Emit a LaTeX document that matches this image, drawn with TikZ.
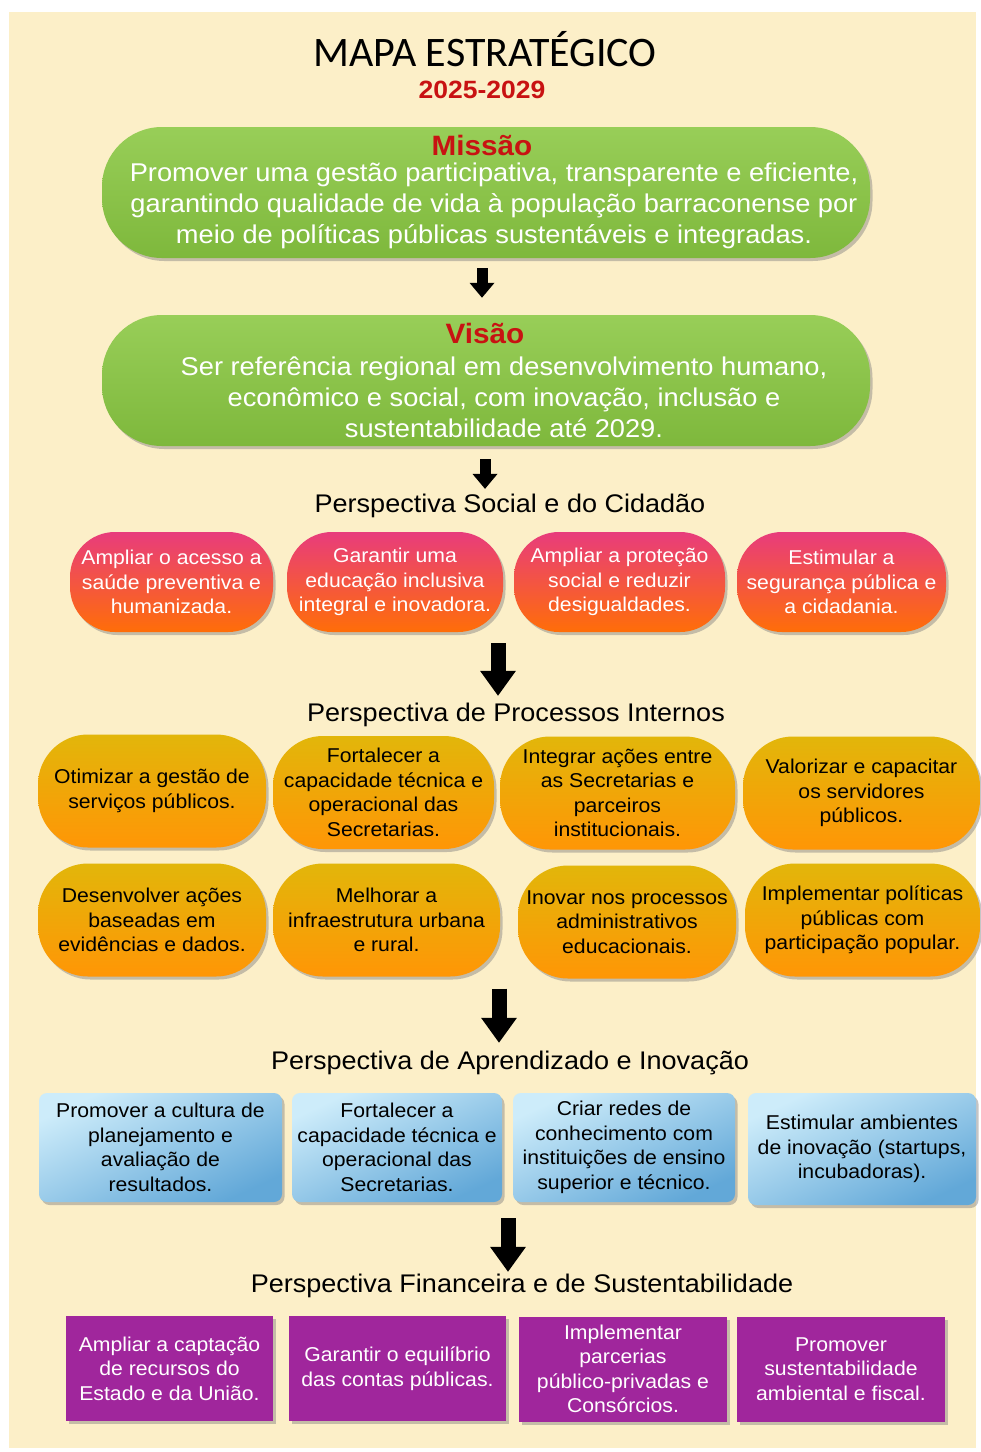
\documentclass[tikz,border=0pt]{standalone}
\usepackage{fontspec}
\setmainfont{Liberation Sans}[FakeStretch=1.06]
\newfontfamily\titlefont{Carlito}
\usetikzlibrary{arrows.meta,shadows}

\definecolor{cream}{RGB}{252,239,200}
\definecolor{darkred}{RGB}{200,18,18}
\definecolor{greenA}{RGB}{152,206,88}
\definecolor{greenB}{RGB}{126,184,60}
\definecolor{pinkA}{RGB}{232,60,124}
\definecolor{orangeA}{RGB}{255,110,8}
\definecolor{goldA}{RGB}{226,182,10}
\definecolor{goldB}{RGB}{255,150,6}
\definecolor{blueA}{RGB}{205,236,250}
\definecolor{blueB}{RGB}{98,168,216}
\definecolor{purpleA}{RGB}{160,38,156}

\tikzstyle{boxshadow}=[drop shadow={shadow xshift=2.5pt,shadow yshift=-3pt,opacity=0.45}]
\tikzstyle{boxtext}=[align=center,inner sep=0pt,font=\fontsize{20}{24.5}\selectfont]
\tikzstyle{greenbox}=[rounded corners=60pt,top color=greenA,bottom color=greenB,boxshadow,minimum width=768pt,minimum height=131pt]
\tikzstyle{socialbox}=[boxtext,text=white,rounded corners=45pt,top color=pinkA,bottom color=orangeA,boxshadow,minimum height=100pt]
\tikzstyle{procbox}=[boxtext,text=black,rounded corners=50pt,top color=goldA,bottom color=goldB,boxshadow,minimum height=113pt]
\tikzstyle{learnbox}=[boxtext,text=black,rounded corners=8pt,top color=blueA,bottom color=blueB,shading angle=25,boxshadow,minimum height=109pt]
\tikzstyle{finbox}=[boxtext,text=white,fill=purpleA,boxshadow,minimum height=105pt]
\tikzstyle{heading}=[inner sep=0pt,font=\fontsize{25.5}{30}\selectfont]
\tikzstyle{smallarrow}=[line width=11pt,-{Triangle[width=24pt,length=15pt]}]
\tikzstyle{bigarrow}=[line width=15pt,-{Triangle[width=34pt,length=25pt]}]

\begin{document}
\begin{tikzpicture}[x=1pt,y=-1pt]
    \useasboundingbox (0,0) rectangle (981,1452);
    \fill[white] (0,0) rectangle (981,1452);
    \fill[cream] (9,12) rectangle (976,1448);

    % title
    \node[inner sep=0pt,font=\titlefont\fontsize{42}{48}\selectfont] (title) at (485,49) {MAPA ESTRATÉGICO};
    \node[inner sep=0pt,text=darkred,font=\bfseries\fontsize{25}{30}\selectfont] (years) at (482,90) {2025-2029};

    % mission and vision
    \node[greenbox] (missao) at (486,192.5) {};
    \node[inner sep=0pt,text=darkred,font=\bfseries\fontsize{28}{32}\selectfont] (missaoT) at (482,145) {Missão};
    \node[boxtext,text=white,font=\fontsize{25.7}{31}\selectfont] (missaoB) at (494,206)
        {Promover uma gestão participativa, transparente e eficiente,\\
         garantindo qualidade de vida à população barraconense por\\
         meio de políticas públicas sustentáveis e integradas.};

    \node[greenbox] (visao) at (486,380.5) {};
    \node[inner sep=0pt,text=darkred,font=\bfseries\fontsize{28}{32}\selectfont] (visaoT) at (485,333) {Visão};
    \node[boxtext,text=white,font=\fontsize{25.7}{31}\selectfont] (visaoB) at (504,397)
        {Ser referência regional em desenvolvimento humano,\\
         econômico e social, com inovação, inclusão e\\
         sustentabilidade até 2029.};

    % perspectives
    \node[heading] (hsoc) at (510,506) {Perspectiva Social e do Cidadão};
    \node[socialbox,minimum width=203pt] (s1) at (171.5,582) {Ampliar o acesso a\\saúde preventiva e\\humanizada.};
    \node[socialbox,minimum width=216pt] (s2) at (395,582) {Garantir uma\\educação inclusiva\\integral e inovadora.};
    \node[socialbox,minimum width=211pt] (s3) at (619.5,582) {Ampliar a proteção\\social e reduzir\\desigualdades.};
    \node[socialbox,minimum width=209pt] (s4) at (841.5,582) {Estimular a\\segurança pública e\\a cidadania.};

    \node[heading] (hproc) at (516,715) {Perspectiva de Processos Internos};
    \node[procbox,minimum width=228pt] (p1) at (152,791) {Otimizar a gestão de\\serviços públicos.};
    \node[procbox,minimum width=221pt] (p2) at (383.5,792.5) {Fortalecer a\\capacidade técnica e\\operacional das\\Secretarias.};
    \node[procbox,minimum width=235pt] (p3) at (617.5,793) {Integrar ações entre\\as Secretarias e\\parceiros\\institucionais.};
    \node[procbox,minimum width=237pt] (p4) at (861.5,793) {Valorizar e capacitar\\os servidores\\públicos.};
    \node[procbox,minimum width=228pt] (q1) at (152,920) {Desenvolver ações\\baseadas em\\evidências e dados.};
    \node[procbox,minimum width=227pt] (q2) at (386.5,920) {Melhorar a\\infraestrutura urbana\\e rural.};
    \node[procbox,minimum width=218pt] (q3) at (627,922) {Inovar nos processos\\administrativos\\educacionais.};
    \node[procbox,minimum width=235pt] (q4) at (862.5,920) {Implementar políticas\\públicas com\\participação popular.};

    \node[heading] (hlearn) at (510,1063) {Perspectiva de Aprendizado e Inovação};
    \node[learnbox,minimum width=243pt] (l1) at (160.5,1147.5) {Promover a cultura de\\planejamento e\\avaliação de\\resultados.};
    \node[learnbox,minimum width=210pt] (l2) at (397,1147.5) {Fortalecer a\\capacidade técnica e\\operacional das\\Secretarias.};
    \node[learnbox,minimum width=222pt] (l3) at (624,1147.5) {Criar redes de\\conhecimento com\\instituições de ensino\\superior e técnico.};
    \node[learnbox,minimum width=228pt,minimum height=112pt] (l4) at (862,1149) {Estimular ambientes\\de inovação (startups,\\incubadoras).};

    \node[heading] (hfin) at (522,1286) {Perspectiva Financeira e de Sustentabilidade};
    \node[finbox,minimum width=207pt] (f1) at (169.5,1368.5) {Ampliar a captação\\de recursos do\\Estado e da União.};
    \node[finbox,minimum width=217pt] (f2) at (397.5,1368.5) {Garantir o equilíbrio\\das contas públicas.};
    \node[finbox,minimum width=208pt] (f3) at (623,1369) {Implementar\\parcerias\\público-privadas e\\Consórcios.};
    \node[finbox,minimum width=208pt] (f4) at (841,1369) {Promover\\sustentabilidade\\ambiental e fiscal.};

    % arrows between the levels
    \coordinate (a1) at (482,0);
    \coordinate (a2) at (485,0);
    \coordinate (a3) at (498,0);
    \coordinate (a4) at (499,0);
    \coordinate (a5) at (508,0);
    \draw[smallarrow,shorten <=10pt,shorten >=17pt] (missao.south -| a1) -- (visao.north -| a1);
    \draw[smallarrow,shorten <=13pt,shorten >=5pt] (visao.south -| a2) -- (hsoc.north -| a2);
    \draw[bigarrow,shorten <=11pt,shorten >=7pt] (s2.south -| a3) -- (hproc.north -| a3);
    \draw[bigarrow,shorten <=12pt,shorten >=8pt] (q2.south -| a4) -- (hlearn.north -| a4);
    \draw[bigarrow,shorten <=16pt,shorten >=2pt] (l2.south -| a5) -- (hfin.north -| a5);
\end{tikzpicture}
\end{document}
